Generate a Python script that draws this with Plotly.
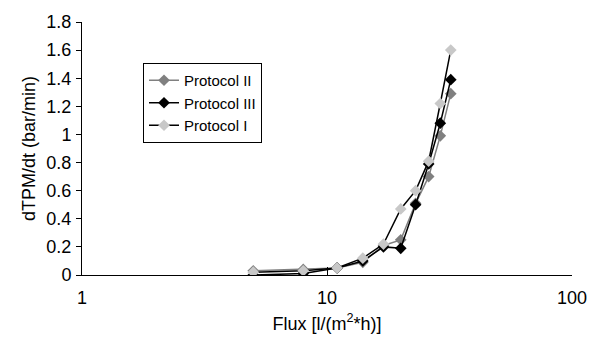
import plotly.graph_objects as go

flux = [5, 8, 11, 14, 17, 20, 23, 26, 29, 32]
protocol_ii = [0.03, 0.04, 0.05, 0.09, 0.21, 0.25, 0.51, 0.70, 0.99, 1.29]
protocol_iii = [0.0, 0.01, 0.05, 0.10, 0.20, 0.19, 0.50, 0.79, 1.08, 1.39]
protocol_i = [0.02, 0.03, 0.05, 0.12, 0.22, 0.47, 0.60, 0.81, 1.22, 1.60]

series = [
    ("Protocol II", protocol_ii, "#808080", "#808080"),
    ("Protocol III", protocol_iii, "#000000", "#000000"),
    ("Protocol I", protocol_i, "#000000", "#c8c8c8"),
]

fig = go.Figure()
for name, vals, lc, mc in series:
    fig.add_trace(go.Scatter(
        x=flux, y=vals, name=name, mode="lines+markers",
        line=dict(color=lc, width=1.5),
        marker=dict(symbol="diamond", size=9, color=mc, line=dict(width=0)),
    ))

font = "Liberation Sans, Arial, sans-serif"
fig.update_layout(
    width=601, height=342,
    margin=dict(l=82, r=29, t=16, b=66),
    paper_bgcolor="white", plot_bgcolor="white",
    font=dict(family=font, size=17, color="black"),
    showlegend=True,
    legend=dict(
        x=0.1245, y=0.838, xanchor="left", yanchor="top",
        bordercolor="black", borderwidth=1, bgcolor="white",
        font=dict(size=15), itemwidth=30, tracegroupgap=0,
    ),
    xaxis=dict(
        type="log", range=[0, 2],
        tickvals=[1, 10, 100], ticktext=["1", "10", "100"],
        ticks="inside", ticklen=8, tickcolor="black",
        showline=True, linecolor="black", linewidth=1,
        showgrid=False, zeroline=False,
        tickfont=dict(size=18), ticklabelstandoff=6,
        title=dict(text="Flux [l/(m<sup>2</sup>*h)]", font=dict(size=18), standoff=10),
    ),
    yaxis=dict(
        range=[0, 1.8],
        tickvals=[0, 0.2, 0.4, 0.6, 0.8, 1.0, 1.2, 1.4, 1.6, 1.8],
        ticktext=["0", "0.2", "0.4", "0.6", "0.8", "1", "1.2", "1.4", "1.6", "1.8"],
        ticks="outside", ticklen=5, tickcolor="black",
        showline=True, linecolor="black", linewidth=1,
        showgrid=False, zeroline=False,
        tickfont=dict(size=18), ticklabelstandoff=1,
        title=dict(text="dTPM/dt (bar/min)", font=dict(size=18), standoff=6),
    ),
)

fig.write_html("out.html")
